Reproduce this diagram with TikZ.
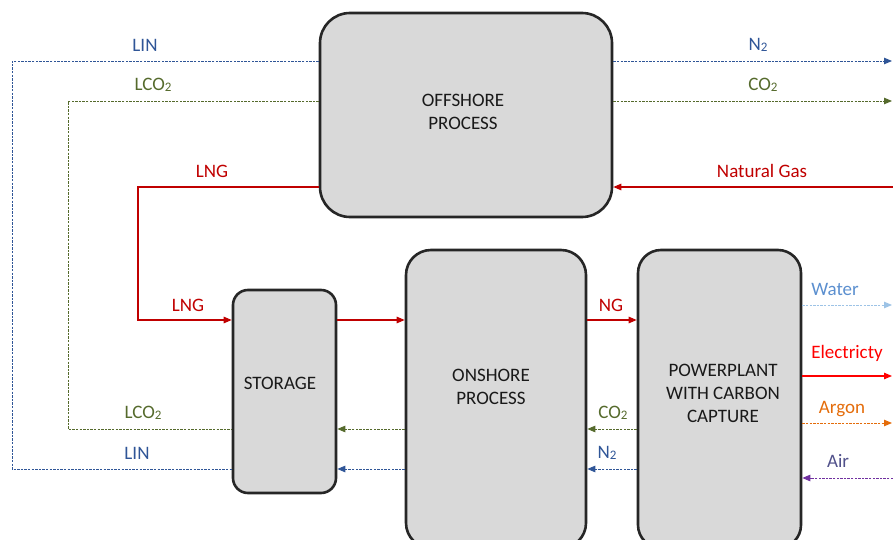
\documentclass[tikz,border=0pt]{standalone}
\usepackage{fontspec}
\setmainfont{Carlito}
\usetikzlibrary{arrows.meta}
\definecolor{boxfill}{HTML}{D9D9D9}
\definecolor{boxline}{HTML}{262626}
\definecolor{linblue}{HTML}{2F5597}
\definecolor{olive}{HTML}{556A2C}
\definecolor{lngred}{HTML}{C00000}
\definecolor{elred}{HTML}{FF0000}
\definecolor{watertxt}{HTML}{5B8FCF}
\definecolor{waterline}{HTML}{9DC3E6}
\definecolor{argon}{HTML}{E46C0A}
\definecolor{airtxt}{HTML}{50508A}
\definecolor{airline}{HTML}{7030A0}
\newcommand{\subtwo}{\raisebox{-1.5pt}{\fontsize{13}{13}\selectfont 2}}
\tikzset{
  procbox/.style={draw=boxline, line width=2.6pt, fill=boxfill, inner sep=0pt},
  boxtext/.style={align=center, text=black!90, font=\fontsize{19}{23}\selectfont},
  flowlabel/.style={font=\fontsize{19}{23}\selectfont, inner sep=0pt},
  tip/.style={-{Triangle[length=8pt,width=6.5pt]}},
  dashedflow/.style={line width=0.9pt, dash pattern=on 2.4pt off 1.2pt},
  solidflow/.style={line width=1.1pt},
}
\begin{document}
\begin{tikzpicture}[x=1pt,y=-1pt]
\useasboundingbox (0,0) rectangle (893,540);
% boxes
\node[procbox, rounded corners=30pt, minimum width=292pt, minimum height=204pt] (offshore) at (466,115) {};
\node[procbox, rounded corners=15pt, minimum width=103pt, minimum height=203pt] (storage) at (284.5,391.5) {};
\node[procbox, rounded corners=25pt, minimum width=180pt, minimum height=298pt] (onshore) at (496,399) {};
\node[procbox, rounded corners=23pt, minimum width=163pt, minimum height=298pt] (power) at (719.5,399) {};
\node[boxtext] (offtxt) at (463,112) {OFFSHORE\\PROCESS};
\node[boxtext] (stortxt) at (280,383) {STORAGE};
\node[boxtext] (ontxt) at (491,387) {ONSHORE\\PROCESS};
\node[boxtext] (powtxt) at (723,393) {POWERPLANT\\WITH CARBON\\CAPTURE};
% free-end coordinates
\coordinate (linA) at (12,61);
\coordinate (linB) at (12,469);
\coordinate (lcoA) at (68,101);
\coordinate (lcoB) at (68,429);
\coordinate (lngA) at (138,187);
\coordinate (lngB) at (138,320);
\coordinate (n2out) at (892,61);
\coordinate (co2out) at (892,101);
\coordinate (ngin) at (893,187);
\coordinate (waterout) at (892,305);
\coordinate (elout) at (892,376);
\coordinate (argout) at (892,423);
\coordinate (airin) at (893,478);
% LIN loop
\draw[dashedflow, linblue] (offshore.west |- linA) -- (linA) -- (linB) -- (storage.west |- linB);
\draw[dashedflow, linblue, tip] (onshore.west |- linB) -- (storage.east |- linB);
\draw[dashedflow, linblue, tip] (power.west |- linB) -- (onshore.east |- linB);
% LCO2 loop
\draw[dashedflow, olive] (offshore.west |- lcoA) -- (lcoA) -- (lcoB) -- (storage.west |- lcoB);
\draw[dashedflow, olive, tip] (onshore.west |- lcoB) -- (storage.east |- lcoB);
\draw[dashedflow, olive, tip] (power.west |- lcoB) -- (onshore.east |- lcoB);
% N2 and CO2 out of offshore
\draw[dashedflow, linblue, tip] (offshore.east |- n2out) -- (n2out);
\draw[dashedflow, olive, tip] (offshore.east |- co2out) -- (co2out);
% Natural gas in
\draw[solidflow, lngred, tip] (ngin) -- (offshore.east |- ngin);
% LNG
\draw[solidflow, lngred, tip] (offshore.west |- lngA) -- (lngA) -- (lngB) -- (storage.west |- lngB);
\draw[solidflow, lngred, tip] (storage.east |- lngB) -- (onshore.west |- lngB);
\draw[solidflow, lngred, tip] (onshore.east |- lngB) -- (power.west |- lngB);
% powerplant outputs
\draw[dashedflow, waterline, tip] (power.east |- waterout) -- (waterout);
\draw[solidflow, elred, tip] (power.east |- elout) -- (elout);
\draw[dashedflow, argon, tip] (power.east |- argout) -- (argout);
\draw[dashedflow, airline, tip] (airin) -- (power.east |- airin);
% labels
\node[flowlabel, text=linblue] (l1) at (145,45) {LIN};
\node[flowlabel, text=linblue] (l2) at (758,45) {N\subtwo};
\node[flowlabel, text=olive] (l3) at (153,85) {LCO\subtwo};
\node[flowlabel, text=olive] (l4) at (763,85) {CO\subtwo};
\node[flowlabel, text=lngred] (l5) at (212,171) {LNG};
\node[flowlabel, text=lngred] (l6) at (762,171) {Natural Gas};
\node[flowlabel, text=lngred] (l7) at (188,305) {LNG};
\node[flowlabel, text=lngred] (l8) at (611,305) {NG};
\node[flowlabel, text=watertxt] (l9) at (835,289) {Water};
\node[flowlabel, text=elred] (l10) at (847,353) {Electricty};
\node[flowlabel, text=argon] (l11) at (842,409) {Argon};
\node[flowlabel, text=airtxt] (l12) at (838,461) {Air};
\node[flowlabel, text=olive] (l13) at (143,413) {LCO\subtwo};
\node[flowlabel, text=linblue] (l14) at (137,453) {LIN};
\node[flowlabel, text=olive] (l15) at (613,413) {CO\subtwo};
\node[flowlabel, text=linblue] (l16) at (607,453) {N\subtwo};
\end{tikzpicture}
\end{document}
